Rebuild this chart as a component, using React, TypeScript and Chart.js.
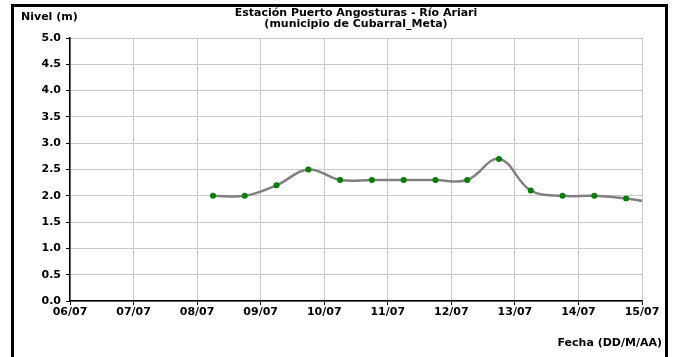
import React, { useEffect, useRef } from "react";
import { Chart, registerables } from "chart.js";

Chart.register(...registerables);

// Day tick labels (06/07 .. 15/07)
const dayLabels = ["06/07", "07/07", "08/07", "09/07", "10/07", "11/07", "12/07", "13/07", "14/07", "15/07"];
// Observation times (DD/MM HH:mm)
const obsTimes = [
  "08/07 06:00", "08/07 18:00", "09/07 06:00", "09/07 18:00", "10/07 06:00",
  "10/07 18:00", "11/07 06:00", "11/07 18:00", "12/07 06:00", "12/07 18:00",
  "13/07 06:00", "13/07 18:00", "14/07 06:00", "14/07 18:00", "15/07 06:00",
];
// Water level (m)
const levels = [2.0, 2.0, 2.2, 2.5, 2.3, 2.3, 2.3, 2.3, 2.3, 2.7, 2.1, 2.0, 2.0, 1.95, 1.85];
const yTicks = [0, 0.5, 1, 1.5, 2, 2.5, 3, 3.5, 4, 4.5, 5];

const title1 = "Estación Puerto Angosturas - Río Ariari";
const title2 = "(municipio de Cubarral_Meta)";
const yTitle = "Nivel (m)";
const xTitle = "Fecha (DD/M/AA)";

const FONT = "'DejaVu Sans', 'Liberation Sans', Arial, sans-serif";

function toDayOffset(s: string): number {
  const [d, t] = s.split(" ");
  const day = parseInt(d.split("/")[0], 10);
  const [hh, mm] = t.split(":").map((v) => parseInt(v, 10));
  return day - 6 + (hh + mm / 60) / 24;
}

export default function App() {
  const ref = useRef<HTMLCanvasElement | null>(null);

  useEffect(() => {
    if (!ref.current) return;
    const points = obsTimes.map((t, i) => ({ x: toDayOffset(t), y: levels[i] }));
    const chart = new Chart(ref.current, {
      type: "line",
      data: {
        datasets: [
          {
            data: points,
            borderColor: "#808080",
            borderWidth: 2.5,
            tension: 0.4,
            pointBackgroundColor: "#008000",
            pointBorderColor: "#008000",
            pointRadius: 3,
            pointBorderWidth: 0,
          },
        ],
      },
      options: {
        responsive: false,
        animation: false,
        events: [],
        layout: { padding: { top: 38, right: 32, left: 0, bottom: 0 } },
        plugins: { legend: { display: false }, tooltip: { enabled: false }, title: { display: false } },
        scales: {
          x: {
            type: "linear",
            min: 0,
            max: dayLabels.length - 1,
            afterBuildTicks: (s: any) => {
              s.ticks = dayLabels.map((_, i) => ({ value: i }));
            },
            afterFit: (s: any) => {
              s.height = 56;
            },
            ticks: {
              autoSkip: false,
              maxRotation: 0,
              padding: 1,
              color: "#000",
              font: { family: FONT, size: 11, weight: "bold" },
              callback: (v: any) => dayLabels[Math.round(Number(v))] ?? "",
            },
            grid: { color: "#c8c8c8", tickColor: "#000", tickLength: 4, lineWidth: 1 },
            border: { color: "#000", width: 1.5 },
          },
          y: {
            min: 0,
            max: 5,
            afterBuildTicks: (s: any) => {
              s.ticks = yTicks.map((v) => ({ value: v }));
            },
            afterFit: (s: any) => {
              s.width = 70;
            },
            ticks: {
              padding: 5,
              color: "#000",
              font: { family: FONT, size: 11, weight: "bold" },
              callback: (v: any) => Number(v).toFixed(1),
            },
            grid: { color: "#c8c8c8", tickColor: "#000", tickLength: 4, lineWidth: 1 },
            border: { color: "#000", width: 1.5 },
          },
        },
      },
    });
    return () => chart.destroy();
  }, []);

  const textStyle: React.CSSProperties = {
    position: "absolute",
    fontFamily: FONT,
    fontWeight: "bold",
    fontSize: 11,
    color: "#000",
    whiteSpace: "nowrap",
    lineHeight: "12px",
  };

  return (
    <div
      style={{
        position: "fixed",
        left: 0,
        top: 0,
        width: 674,
        height: 357,
        background: "#fff",
        overflow: "hidden",
      }}
    >
      <div
        style={{
          position: "absolute",
          left: 11,
          top: 4,
          width: 657,
          height: 420,
          border: "3px solid #000",
          boxSizing: "border-box",
        }}
      />
      <canvas ref={ref} width={674} height={357} style={{ position: "absolute", left: 0, top: 0 }} />
      <div style={{ ...textStyle, left: 0, width: 712, top: 7, lineHeight: "11px", textAlign: "center" }}>
        <div>{title1}</div>
        <div>{title2}</div>
      </div>
      <div style={{ ...textStyle, left: 21, top: 11 }}>{yTitle}</div>
      <div style={{ ...textStyle, right: 674 - 662, top: 337 }}>{xTitle}</div>
    </div>
  );
}
